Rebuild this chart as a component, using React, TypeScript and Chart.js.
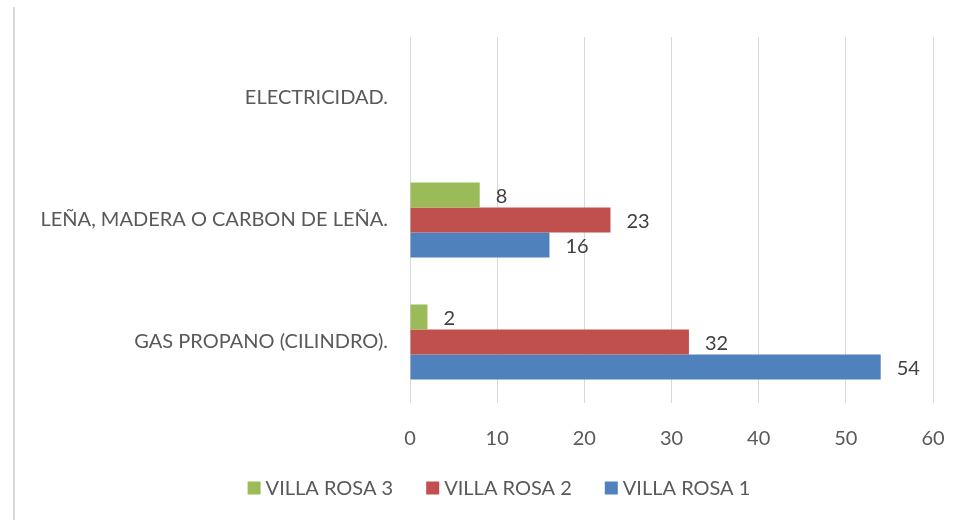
import React, { useEffect, useRef } from "react";
import { Chart, registerables } from "chart.js";

Chart.register(...registerables);

const categories = [
  "ELECTRICIDAD.",
  "LEÑA, MADERA O CARBON DE LEÑA.",
  "GAS PROPANO (CILINDRO).",
];
const villaRosa3 = [0, 8, 2];
const villaRosa2 = [0, 23, 32];
const villaRosa1 = [0, 16, 54];
const xTicks = [0, 10, 20, 30, 40, 50, 60];

const FONT = "Lato, 'Open Sans', sans-serif";

const dataLabels = {
  id: "dataLabels",
  afterDatasetsDraw(chart: any) {
    const ctx = chart.ctx;
    ctx.save();
    ctx.font = `20px ${FONT}`;
    ctx.fillStyle = "#404040";
    ctx.textAlign = "left";
    ctx.textBaseline = "middle";
    chart.data.datasets.forEach((ds: any, i: number) => {
      const meta = chart.getDatasetMeta(i);
      meta.data.forEach((el: any, j: number) => {
        const v = ds.data[j];
        if (!v) return;
        ctx.fillText(String(v), el.x + 16, el.y + 2);
      });
    });
    ctx.restore();
  },
};

const frame = {
  id: "frame",
  beforeDraw(chart: any) {
    const ctx = chart.ctx;
    ctx.save();
    ctx.strokeStyle = "#d9d9d9";
    ctx.lineWidth = 2;
    ctx.beginPath();
    ctx.moveTo(14, 7);
    ctx.lineTo(14, 520);
    ctx.stroke();
    ctx.restore();
  },
};

const customLegend = {
  id: "customLegend",
  afterDraw(chart: any) {
    const ctx = chart.ctx;
    ctx.save();
    ctx.font = `20px ${FONT}`;
    ctx.textBaseline = "middle";
    ctx.textAlign = "left";
    const box = 13;
    const gapText = 5;
    const gapItem = 33;
    const items = chart.data.datasets.map((ds: any) => ({
      label: ds.label,
      color: ds.backgroundColor,
      w: ctx.measureText(ds.label).width,
    }));
    const total =
      items.reduce((a: number, it: any) => a + box + gapText + it.w, 0) +
      gapItem * (items.length - 1);
    let x = 499 - total / 2;
    const cy = 488;
    items.forEach((it: any) => {
      ctx.fillStyle = it.color;
      ctx.fillRect(x, cy - box / 2, box, box);
      x += box + gapText;
      ctx.fillStyle = "#595959";
      ctx.fillText(it.label, x, cy + 1);
      x += it.w + gapItem;
    });
    ctx.restore();
  },
};

export default function App() {
  const ref = useRef<HTMLCanvasElement>(null);
  useEffect(() => {
    document.body.style.margin = "0";
    const chart = new Chart(ref.current!, {
      type: "bar",
      data: {
        labels: categories,
        datasets: [
          { label: "VILLA ROSA 3", data: villaRosa3, backgroundColor: "#9bbb59" },
          { label: "VILLA ROSA 2", data: villaRosa2, backgroundColor: "#c0504d" },
          { label: "VILLA ROSA 1", data: villaRosa1, backgroundColor: "#4f81bd" },
        ],
      },
      options: {
        indexAxis: "y",
        animation: false,
        responsive: true,
        maintainAspectRatio: false,
        datasets: { bar: { barPercentage: 1, categoryPercentage: 0.615 } },
        layout: { padding: { top: 37, right: 39, left: 0, bottom: 67 } },
        scales: {
          x: {
            min: 0,
            max: 60,
            afterBuildTicks: (s: any) => {
              s.ticks = xTicks.map((v) => ({ value: v }));
            },
            afterFit: (s: any) => {
              s.height = 50;
            },
            grid: { color: "#d9d9d9", drawTicks: false },
            border: { display: false },
            ticks: {
              padding: 24,
              color: "#595959",
              font: { family: FONT, size: 20 },
            },
          },
          y: {
            afterFit: (s: any) => {
              s.width = 410;
            },
            grid: { display: false, drawTicks: false },
            border: { display: false },
            ticks: {
              padding: 22,
              color: "#595959",
              font: { family: FONT, size: 20 },
            },
          },
        },
        plugins: {
          legend: { display: false },
          tooltip: { enabled: false },
        },
      },
      plugins: [dataLabels, frame, customLegend],
    });
    return () => chart.destroy();
  }, []);
  return (
    <div style={{ width: 972, height: 520, position: "relative", background: "#fff" }}>
      <canvas ref={ref} />
    </div>
  );
}
